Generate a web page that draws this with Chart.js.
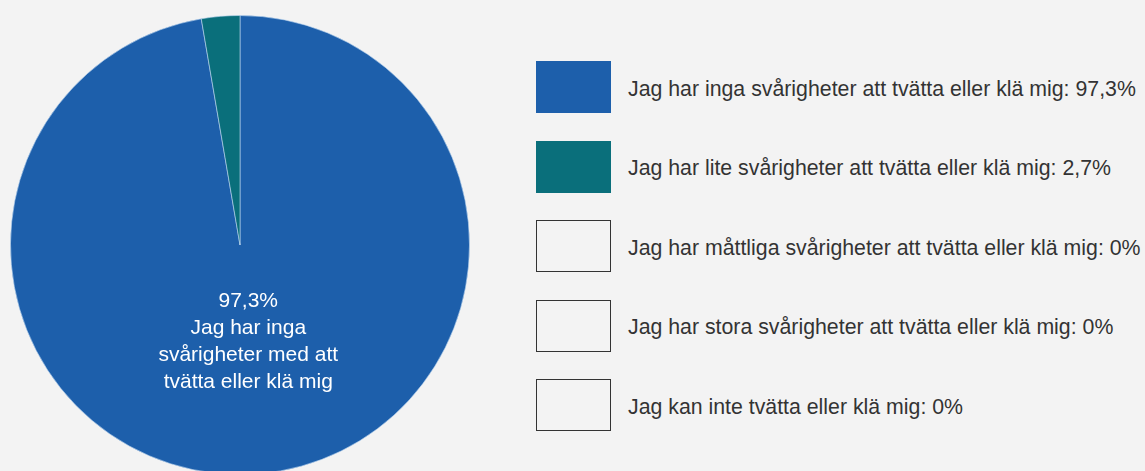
<!DOCTYPE html>
<html lang="sv">
<head>
    <meta charset="UTF-8">
    <meta name="viewport" content="width=device-width, initial-scale=1.0">
    <title>Tvätta eller klä sig</title>
    <script src="https://cdn.jsdelivr.net/npm/chart.js@4.4.0/dist/chart.umd.min.js"></script>
    <style>
        html, body {
            margin: 0;
            width: 1145px;
            height: 471px;
            overflow: hidden;
            background: #f3f3f3;
            font-family: 'Liberation Sans', Arial, sans-serif;
        }
        #pieWrap {
            position: absolute;
            left: 0;
            top: 0;
            width: 480px;
            height: 490px;
        }
        #legend {
            position: absolute;
            left: 536px;
            top: 61px;
            margin: 0;
            padding: 0;
            list-style: none;
            font-size: 21.3px;
            color: #333;
        }
        #legend li {
            display: flex;
            align-items: center;
            height: 52px;
            margin-bottom: 27.5px;
        }
        #legend .box {
            width: 75px;
            height: 52px;
            box-sizing: border-box;
            margin-right: 17px;
        }
        #legend li span:last-child {
            position: relative;
            top: 2px;
        }
    </style>
</head>
<body>
    <div id="pieWrap"><canvas id="pieChart"></canvas></div>
    <ul id="legend"></ul>

    <script>
        // Data
        const categories = [
            'Jag har inga svårigheter att tvätta eller klä mig',
            'Jag har lite svårigheter att tvätta eller klä mig',
            'Jag har måttliga svårigheter att tvätta eller klä mig',
            'Jag har stora svårigheter att tvätta eller klä mig',
            'Jag kan inte tvätta eller klä mig'
        ];
        const sliceLabels = [
            'Jag har inga svårigheter med att tvätta eller klä mig',
            'Jag har lite svårigheter med att tvätta eller klä mig',
            'Jag har måttliga svårigheter med att tvätta eller klä mig',
            'Jag har stora svårigheter med att tvätta eller klä mig',
            'Jag kan inte tvätta eller klä mig'
        ];
        const values = [97.3, 2.7, 0, 0, 0];

        const colors = ['#1d5fab', '#0a6f7b', '#f3f3f3', '#f3f3f3', '#f3f3f3'];

        const fmt = v => String(v).replace('.', ',');

        // split text into lines that fit maxWidth
        function wrapText(ctx, text, maxWidth) {
            const words = text.split(' ');
            const lines = [];
            let line = '';
            words.forEach(w => {
                const test = line ? line + ' ' + w : w;
                if (line && ctx.measureText(test).width > maxWidth) {
                    lines.push(line);
                    line = w;
                } else {
                    line = test;
                }
            });
            if (line) lines.push(line);
            return lines;
        }

        // label inside the big slices
        const sliceLabelPlugin = {
            id: 'sliceLabels',
            afterDatasetsDraw(chart) {
                const ctx = chart.ctx;
                const meta = chart.getDatasetMeta(0);
                ctx.save();
                ctx.font = '21px "Liberation Sans", Arial, sans-serif';
                ctx.fillStyle = '#ffffff';
                ctx.textAlign = 'center';
                ctx.textBaseline = 'middle';
                meta.data.forEach((arc, i) => {
                    if (values[i] < 10) return;
                    const p = arc.getProps(['x', 'y', 'startAngle', 'endAngle', 'outerRadius'], true);
                    const mid = (p.startAngle + p.endAngle) / 2;
                    const r = p.outerRadius * 0.425;
                    const cx = p.x + Math.cos(mid) * r;
                    const cy = p.y + Math.sin(mid) * r;
                    const lines = [fmt(values[i]) + '%'].concat(wrapText(ctx, sliceLabels[i], 205));
                    const lh = 27;
                    const y0 = cy - (lines.length - 1) * lh / 2;
                    lines.forEach((t, k) => ctx.fillText(t, cx, y0 + k * lh));
                });
                ctx.restore();
            }
        };

        const pieChart = new Chart(document.getElementById('pieChart'), {
            type: 'pie',
            data: {
                labels: categories,
                datasets: [{
                    data: values,
                    backgroundColor: colors,
                    borderColor: 'rgba(190, 215, 240, 0.6)',
                    borderWidth: 1
                }]
            },
            options: {
                responsive: true,
                maintainAspectRatio: false,
                animation: false,
                layout: {
                    padding: { left: 10, top: 15, right: 10, bottom: 15 }
                },
                plugins: {
                    legend: { display: false },
                    tooltip: { enabled: false }
                }
            },
            plugins: [sliceLabelPlugin]
        });

        // HTML legend built from the chart
        const legendEl = document.getElementById('legend');
        pieChart.data.labels.forEach((label, i) => {
            const li = document.createElement('li');
            const box = document.createElement('span');
            box.className = 'box';
            box.style.background = colors[i];
            if (values[i] === 0) box.style.border = '1.5px solid #333';
            const txt = document.createElement('span');
            txt.textContent = label + ': ' + fmt(values[i]) + '%';
            li.appendChild(box);
            li.appendChild(txt);
            legendEl.appendChild(li);
        });
    </script>
</body>
</html>
